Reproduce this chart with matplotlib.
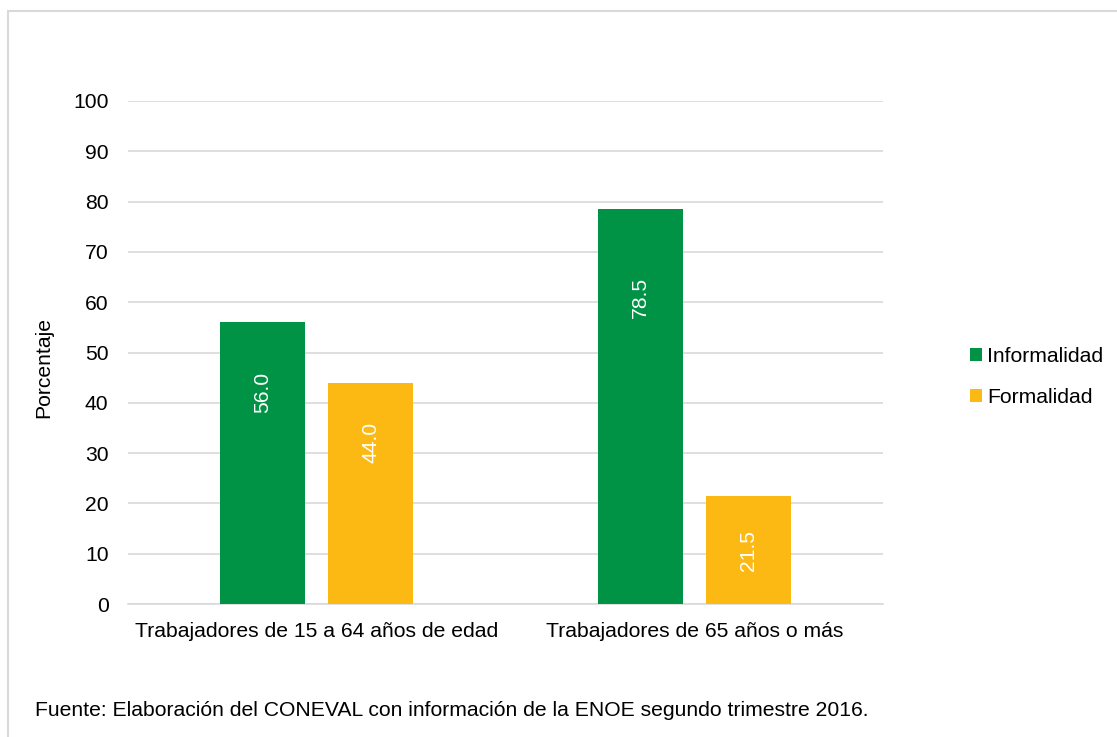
import matplotlib.pyplot as plt
import numpy as np
from matplotlib.patches import Rectangle

plt.rcParams['font.family'] = ['Liberation Sans', 'DejaVu Sans']

categories = ['Trabajadores de 15 a 64 años de edad', 'Trabajadores de 65 años o más']
informalidad = [56.0, 78.5]
formalidad = [44.0, 21.5]
series_names = ['Informalidad', 'Formalidad']
yticks = [0, 10, 20, 30, 40, 50, 60, 70, 80, 90, 100]
fuente = 'Fuente: Elaboración del CONEVAL con información de la ENOE segundo trimestre 2016.'

green = '#009245'
orange = '#FDB913'
grid_color = '#d9d9d9'
fs = 15.2

W, H = 1117, 737
fig = plt.figure(figsize=(W / 100, H / 100), dpi=100)

# outer frame (only left/top visible in the reference)
fig.patches.append(Rectangle((7.5 / W, -0.1), 1.2, 1 - 11 / H + 0.1, transform=fig.transFigure,
                             fill=False, edgecolor=grid_color, linewidth=1.5))

# axes box in pixels: x 128..883, y 101..604
ax = fig.add_axes([128 / W, 1 - 604 / H, (883 - 128) / W, (604 - 101) / H])

x = np.arange(len(categories))
width = 0.225
offset = 0.143
b1 = ax.bar(x - offset, informalidad, width, color=green, label=series_names[0], zorder=3)
b2 = ax.bar(x + offset, formalidad, width, color=orange, label=series_names[1], zorder=3)

# label drop below bar top, in pixels (as placed in the reference)
drops = [[50, 68], [39, 34]]
for bars, dr in zip((b1, b2), drops):
    for rect, d in zip(bars, dr):
        h = rect.get_height()
        ax.annotate(f'{h:.1f}', (rect.get_x() + rect.get_width() / 2, h),
                    xytext=(0, -d * 0.72), textcoords='offset points', rotation=90,
                    ha='center', va='top', color='white', fontsize=fs, zorder=4)

ax.set_xlim(-0.5, 1.5)
ax.set_ylim(0, 100)
ax.set_yticks(yticks)
ax.set_xticks(x)
ax.set_xticklabels(categories)
ax.tick_params(axis='both', length=0, labelsize=fs, colors='#000000')
ax.tick_params(axis='y', pad=14)
ax.tick_params(axis='x', pad=13)
ax.grid(axis='y', color=grid_color, linewidth=1.2, zorder=0)
for s in ['top', 'right', 'left']:
    ax.spines[s].set_visible(False)
ax.spines['bottom'].set_color(grid_color)
ax.spines['bottom'].set_linewidth(1.2)

fig.text(44 / W, 1 - 367 / H, 'Porcentaje', rotation=90, fontsize=fs, ha='center', va='center')

ax.legend(loc='center left', bbox_to_anchor=(970 / W, 1 - 377 / H), bbox_transform=fig.transFigure,
          frameon=False, fontsize=fs, borderpad=0, borderaxespad=0,
          handlelength=0.57, handleheight=0.57, handletextpad=0.25, labelspacing=1.0)

fig.text(35 / W, 1 - 710 / H, fuente, fontsize=fs, va='center', ha='left')

fig.savefig('out.png', dpi=100)
